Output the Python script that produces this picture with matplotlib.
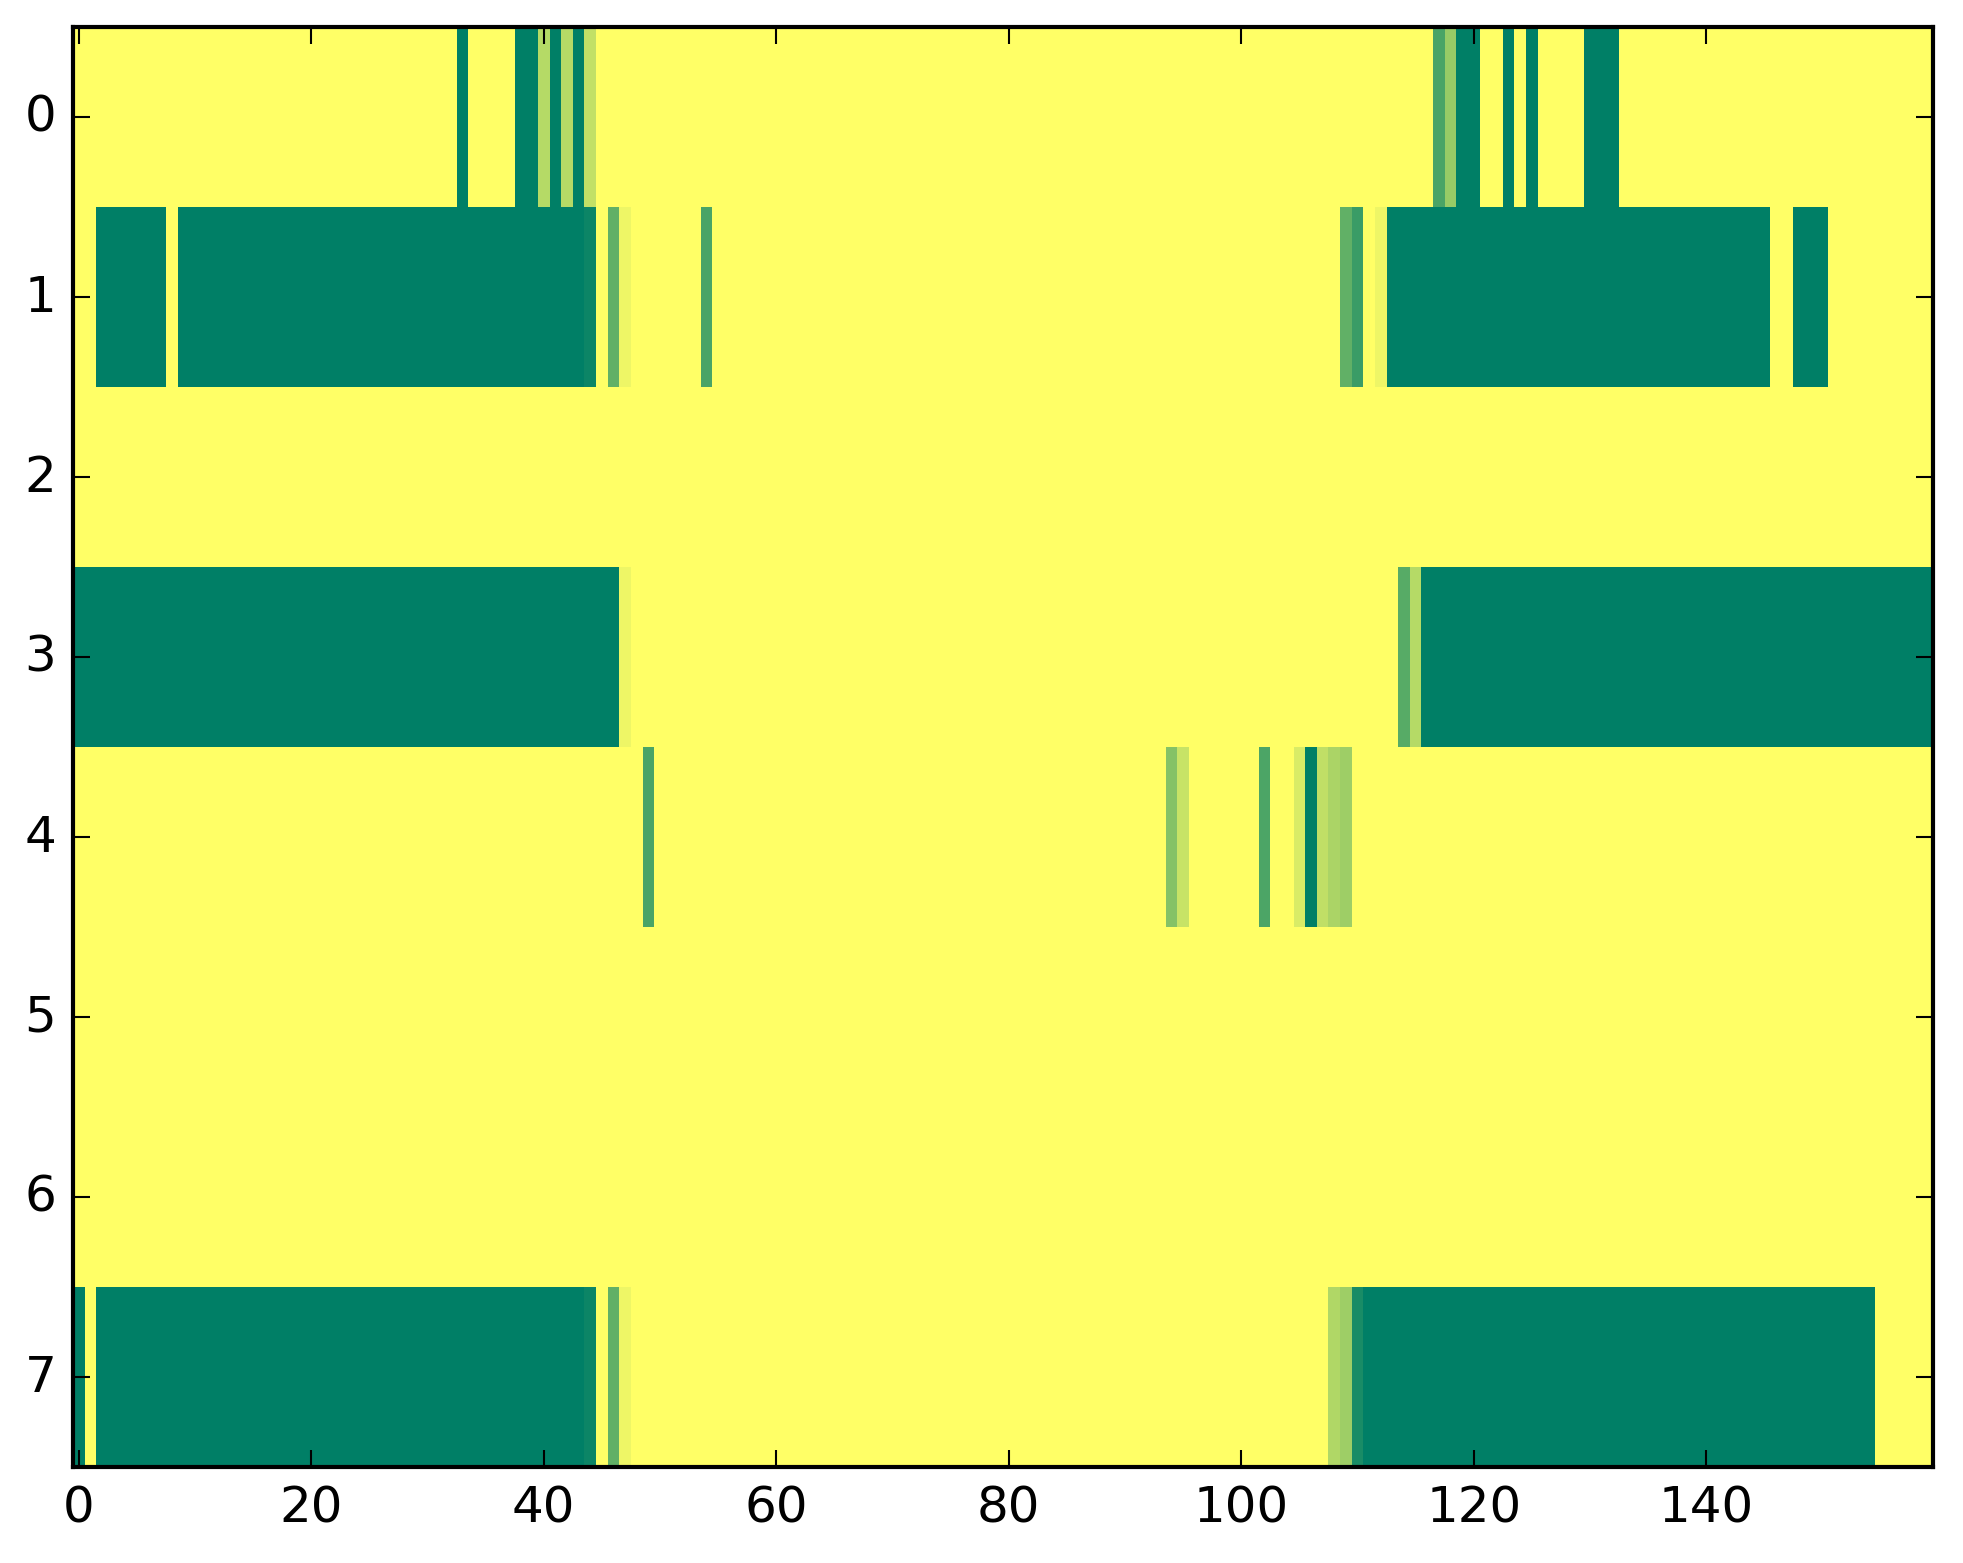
import matplotlib
matplotlib.use('Agg')
import matplotlib.pyplot as plt
import numpy as np

plt.style.use('classic')

n_rows = 8
n_cols = 160
background = 1.0

# runs per row: (first column, last column, value); everything else = background
row0 = [(33, 33, 0.0), (38, 39, 0.0), (40, 40, 0.71), (41, 41, 0.0), (42, 42, 0.71),
        (43, 43, 0.0), (44, 44, 0.76), (117, 117, 0.29), (118, 118, 0.59),
        (119, 120, 0.0), (123, 123, 0.0), (125, 125, 0.0), (130, 132, 0.0)]
row1 = [(2, 7, 0.0), (9, 43, 0.0), (44, 44, 0.05), (46, 46, 0.38), (47, 47, 0.93),
        (54, 54, 0.29), (109, 109, 0.38), (110, 110, 0.23), (112, 112, 0.93),
        (113, 145, 0.0), (148, 150, 0.0)]
row2 = []
row3 = [(0, 46, 0.0), (47, 47, 0.93), (114, 114, 0.34), (115, 115, 0.71), (116, 159, 0.0)]
row4 = [(49, 49, 0.29), (94, 94, 0.52), (95, 95, 0.78), (102, 102, 0.30),
        (105, 105, 0.85), (106, 106, 0.0), (107, 107, 0.75), (108, 108, 0.67),
        (109, 109, 0.62)]
row5 = []
row6 = []
row7 = [(0, 0, 0.0), (2, 43, 0.0), (44, 44, 0.05), (46, 46, 0.38), (47, 47, 0.93),
        (108, 108, 0.69), (109, 109, 0.62), (110, 110, 0.10), (111, 154, 0.0)]

rows = [row0, row1, row2, row3, row4, row5, row6, row7]

grid = np.full((n_rows, n_cols), background)
for r, runs in enumerate(rows):
    for a, b, v in runs:
        grid[r, a:b + 1] = v

W, H, DPI = 1963, 1564, 300
fig = plt.figure(figsize=(W / DPI, H / DPI), dpi=DPI, facecolor='white')
ax = fig.add_axes([73 / W, (H - 1468) / H, 1860 / W, 1440 / H])

ax.imshow(grid, cmap='summer', vmin=0, vmax=1, aspect='auto',
          interpolation='nearest')

ax.set_xticks(np.arange(0, 141, 20))
ax.set_yticks(np.arange(0, 8))
ax.tick_params(labelsize=12)

fig.savefig('out.png', dpi=DPI, facecolor='white')
